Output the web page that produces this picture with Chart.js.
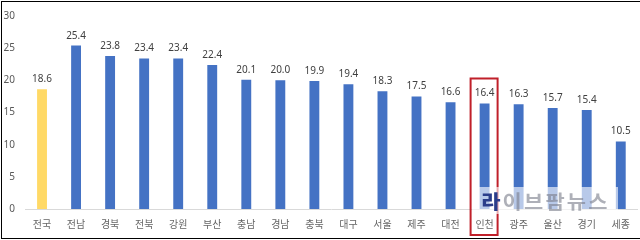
<!DOCTYPE html>
<html>
<head>
<meta charset="utf-8">
<script src="https://cdn.jsdelivr.net/npm/chart.js@4"></script>
<style>
  html, body { margin: 0; padding: 0; background: #fff; }
  #wrap { position: relative; width: 640px; height: 240px; overflow: hidden; }
  #frame { position: absolute; left: 1px; top: 1px; width: 639px; height: 236px;
           border-top: 1px solid #000; border-left: 1px solid #000; border-bottom: 1px solid #000;
           pointer-events: none; }
  #wm { position: absolute; left: 472px; top: 187px; width: 146px; height: 27px;
        background: rgba(255,255,255,0.62); pointer-events: none;
        font-family: 'Noto Sans CJK KR', sans-serif; font-weight: bold; font-size: 19px;
        line-height: 27px; letter-spacing: 2px; text-align: center; white-space: nowrap;
        color: rgba(125,128,140,0.62); }
  #wm span { display: inline-block; transform: scaleX(1.1); }
  #wm b { color: #2b3d8a; }
</style>
</head>
<body>
<div id="wrap">
  <canvas id="c" width="640" height="240"></canvas>
  <div id="wm"><span><b>라</b>이브팜뉴스</span></div>
  <div id="frame"></div>
</div>
<script>
const categories = ['전국','전남','경북','전북','강원','부산','충남','경남','충북','대구','서울','제주','대전','인천','광주','울산','경기','세종'];
const values = [18.6, 25.4, 23.8, 23.4, 23.4, 22.4, 20.1, 20.0, 19.9, 19.4, 18.3, 17.5, 16.6, 16.4, 16.3, 15.7, 15.4, 10.5];
const yTicks = [0, 5, 10, 15, 20, 25, 30];
const highlightCategory = '인천';
const nationalCategory = '전국';

const FONT = "'Noto Sans', 'Noto Sans CJK KR', sans-serif";
const barColors = categories.map(c => c === nationalCategory ? '#FFD966' : '#4472C4');

const valueLabels = {
  id: 'valueLabels',
  afterDatasetsDraw(chart) {
    const ctx = chart.ctx;
    const meta = chart.getDatasetMeta(0);
    ctx.save();
    ctx.font = "10px " + FONT;
    ctx.fillStyle = '#404040';
    ctx.textAlign = 'center';
    ctx.textBaseline = 'alphabetic';
    meta.data.forEach((bar, i) => {
      ctx.fillText(values[i].toFixed(1), bar.x, bar.y - 7);
    });
    ctx.restore();
  }
};

const highlightBox = {
  id: 'highlightBox',
  afterDraw(chart) {
    const idx = categories.indexOf(highlightCategory);
    if (idx < 0) return;
    const xs = chart.scales.x, ys = chart.scales.y;
    const cx = xs.getPixelForValue(idx);
    const top = ys.getPixelForValue(values[idx]) - 25;
    const bottom = chart.chartArea.bottom + 26;
    const ctx = chart.ctx;
    ctx.save();
    ctx.strokeStyle = '#C0202A';
    ctx.lineWidth = 2;
    ctx.strokeRect(cx - 14, top, 27, bottom - top);
    ctx.restore();
  }
};

new Chart(document.getElementById('c'), {
  type: 'bar',
  data: {
    labels: categories,
    datasets: [{
      data: values,
      backgroundColor: barColors,
      borderWidth: 0,
      categoryPercentage: 1,
      barPercentage: 0.29
    }]
  },
  options: {
    responsive: false,
    animation: false,
    devicePixelRatio: 1,
    layout: { padding: { top: 10, right: 1, left: 0, bottom: 0 } },
    plugins: { legend: { display: false }, tooltip: { enabled: false } },
    scales: {
      y: {
        min: 0, max: 30,
        afterBuildTicks(scale) { scale.ticks = yTicks.map(v => ({ value: v })); },
        afterFit(scale) { scale.width = 25; },
        ticks: { padding: 10, color: '#595959', font: { size: 10, family: FONT } },
        grid: { display: false, drawTicks: false },
        border: { display: false }
      },
      x: {
        afterFit(scale) { scale.height = 31; },
        ticks: { padding: 10, color: '#666666', font: { size: 10, family: FONT }, maxRotation: 0, autoSkip: false },
        grid: { display: false, drawTicks: false },
        border: { display: true, color: '#D9D9D9', width: 1 }
      }
    }
  },
  plugins: [valueLabels, highlightBox]
});
</script>
</body>
</html>
